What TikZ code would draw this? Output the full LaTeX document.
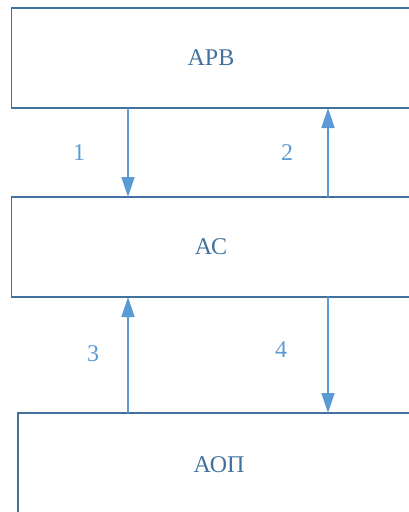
\documentclass[tikz,border=0pt]{standalone}
\usepackage{fontspec}
\setmainfont{Liberation Serif}
\usetikzlibrary{arrows.meta}
\definecolor{boxc}{HTML}{41719C}
\definecolor{arrc}{HTML}{5B9BD5}
\begin{document}
\begin{tikzpicture}[x=1pt,y=-1pt,
  blk/.style={draw=boxc,line width=1.3pt,text=boxc,font=\fontsize{24}{28}\selectfont,
    inner sep=0pt,outer sep=0pt,minimum height=100pt,anchor=center},
  arr/.style={draw=arrc,line width=1.5pt,-{Triangle[width=13pt,length=20pt]}},
  lbl/.style={text=arrc,font=\fontsize{24}{28}\selectfont,inner sep=0pt,anchor=center}]
\useasboundingbox (0,0) rectangle (409,512);
\clip (0,0) rectangle (409,512);
\node[blk,minimum width=399pt] (arv) at (211,58) {АРВ};
\node[blk,minimum width=399pt] (as) at (211,247) {АС};
\node[blk,minimum width=402pt,minimum height=104pt] (aop) at (219,465) {АОП};
\coordinate (xl) at (128,0);
\coordinate (xr) at (328,0);
\draw[arr] (arv.south -| xl) -- (as.north -| xl);
\draw[arr] (as.north -| xr) -- (arv.south -| xr);
\draw[arr] (aop.north -| xl) -- (as.south -| xl);
\draw[arr] (as.south -| xr) -- (aop.north -| xr);
\node[lbl] (l1) at (79,153) {1};
\node[lbl] (l2) at (287,153) {2};
\node[lbl] (l3) at (93,354) {3};
\node[lbl] (l4) at (281,350) {4};
\end{tikzpicture}
\end{document}
